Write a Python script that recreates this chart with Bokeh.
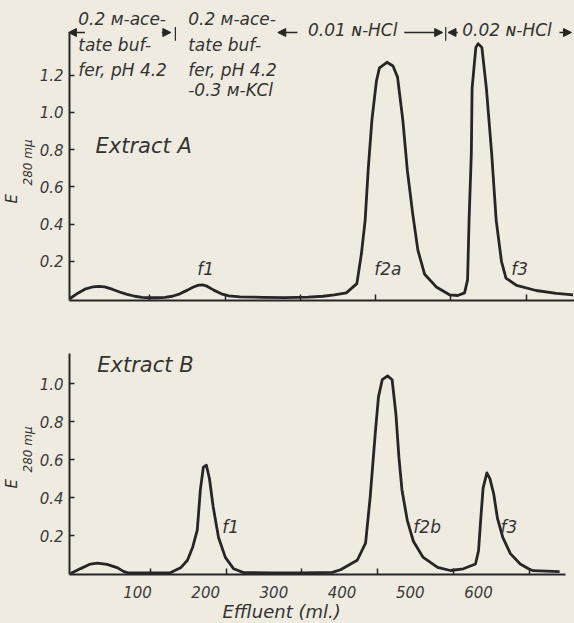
from bokeh.plotting import figure
from bokeh.layouts import column
from bokeh.models import (Range1d, LinearAxis, FixedTicker, Label, Arrow, NormalHead, Title,
                          PrintfTickFormatter, CustomLabelingPolicy)
from bokeh.embed import file_html
from bokeh.resources import INLINE

# ---------------- data ----------------
# Extract A (effluent ml, E280)
a_ml = [-6, 5, 15, 25, 32, 40, 50, 60, 70, 80, 90, 100, 110, 120, 130, 140, 150, 158, 165, 170,
        176, 185, 195, 205, 220, 250, 280, 310, 330, 345, 361, 375, 381, 386, 390, 395, 401, 405,
        415, 423, 429, 436, 442, 449, 456, 465, 481, 498, 509, 518, 522, 524, 527, 528, 533, 536,
        541, 547, 554, 560, 567, 573, 587, 613, 640, 662]
a_E = [0.0, 0.03, 0.052, 0.063, 0.065, 0.062, 0.05, 0.035, 0.022, 0.012, 0.006, 0.004, 0.004,
       0.006, 0.012, 0.025, 0.045, 0.062, 0.072, 0.073, 0.066, 0.045, 0.025, 0.014, 0.009, 0.006,
       0.005, 0.007, 0.012, 0.02, 0.03, 0.08, 0.24, 0.42, 0.69, 0.96, 1.17, 1.24, 1.27, 1.25, 1.19,
       0.96, 0.69, 0.46, 0.26, 0.13, 0.06, 0.02, 0.016, 0.03, 0.1, 0.42, 0.78, 1.13, 1.35, 1.37,
       1.35, 1.13, 0.78, 0.42, 0.2, 0.11, 0.07, 0.043, 0.027, 0.02]

# Extract B
b_ml = [-5, 8, 21, 30, 43, 57, 65, 70, 100, 127, 140, 149, 156, 162, 166, 170, 174, 178, 183,
        190, 199, 210, 223, 260, 300, 340, 351, 373, 384, 390, 397, 401, 406, 413, 419, 424, 428,
        432, 439, 447, 460, 479, 496, 513, 529, 533, 536, 539, 544, 548, 553, 558, 565, 575, 588,
        599, 605, 640]
b_E = [0.0, 0.026, 0.05, 0.055, 0.048, 0.03, 0.01, 0.005, 0.004, 0.005, 0.03, 0.07, 0.14, 0.23,
       0.44, 0.56, 0.57, 0.5, 0.35, 0.19, 0.085, 0.025, 0.005, 0.004, 0.004, 0.006, 0.02, 0.07,
       0.16, 0.4, 0.75, 0.93, 1.02, 1.04, 1.02, 0.84, 0.61, 0.44, 0.28, 0.17, 0.085, 0.032, 0.016,
       0.025, 0.05, 0.12, 0.29, 0.45, 0.53, 0.5, 0.42, 0.29, 0.19, 0.105, 0.05, 0.025, 0.015, 0.01]

x_ticks = [100, 200, 300, 400, 500, 600]
y_ticks_a = [0.2, 0.4, 0.6, 0.8, 1.0, 1.2]
y_ticks_b = [0.2, 0.4, 0.6, 0.8, 1.0]

# eluent changes (ml)
eluent_bounds = [0, 134, 270, 493, 662]
eluent_1 = ["0.2 ᴍ-ace-", "tate buf-", "fer, pH 4.2"]
eluent_2 = ["0.2 ᴍ-ace-", "tate buf-", "fer, pH 4.2", "-0.3 ᴍ-KCl"]
eluent_3 = "0.01 ɴ-HCl"
eluent_4 = "0.02 ɴ-HCl"

peaks_a = [("f1", 163), ("f2a", 398), ("f3", 580)]
peaks_b = [("f1", 195), ("f2b", 447), ("f3", 562)]

# ---------------- style ----------------
ink = "#262626"
txt = "#333333"
bg = "#efebe1"
FONT = "DejaVu Sans"

no_labels = CustomLabelingPolicy(code="""
    for (const i of Array.from(indices)) indices.unset(i)
    return indices
""")


def style(p, yticks):
    p.background_fill_color = bg
    p.border_fill_color = bg
    p.outline_line_color = None
    p.grid.visible = False
    for ax in p.xaxis:
        ax.ticker = FixedTicker(ticks=x_ticks)
        ax.axis_line_color = ink
        ax.axis_line_width = 2
        ax.major_tick_in = 6
        ax.major_tick_out = 0
        ax.major_tick_line_color = ink
        ax.major_tick_line_width = 1.5
        ax.minor_tick_line_color = None
        ax.major_label_policy = no_labels
        ax.major_label_text_font_size = "1px"
        ax.major_label_standoff = 0
    for ax in p.yaxis:
        ax.ticker = FixedTicker(ticks=yticks)
        ax.formatter = PrintfTickFormatter(format="%.1f")
        ax.axis_line_color = ink
        ax.axis_line_width = 2
        ax.major_tick_in = 5
        ax.major_tick_out = 0
        ax.major_tick_line_color = ink
        ax.major_tick_line_width = 1.5
        ax.minor_tick_line_color = None
        ax.major_label_text_font = FONT
        ax.major_label_text_font_style = "italic"
        ax.major_label_text_font_size = "15px"
        ax.major_label_text_color = "#3a3a3a"
        ax.major_label_standoff = 6


def lab(p, x, y, text, size="15px", **kw):
    p.add_layout(Label(x=x, y=y, text=text, text_font=FONT, text_font_style="italic",
                       text_font_size=size, text_color=txt, text_baseline="alphabetic", **kw))


def ylabel(p, off_e, off_sub):
    p.add_layout(Title(text="280 mμ", align="left", offset=off_sub, standoff=0, vertical_align="top",
                       text_font=FONT, text_font_style="italic", text_font_size="12px",
                       text_color=txt), "left")
    p.add_layout(Title(text="E", align="left", offset=off_e, standoff=0, vertical_align="bottom",
                       text_font=FONT, text_font_style="italic", text_font_size="15px",
                       text_color=txt), "left")


# ---------------- top panel ----------------
p1 = figure(width=574, height=310, x_range=Range1d(-6.6, 664), y_range=Range1d(-0.0108, 1.602),
            output_backend="svg", toolbar_location=None, title=None,
            min_border_left=69, min_border_right=0, min_border_top=0, min_border_bottom=10)
style(p1, y_ticks_a)
ya = 1.43
p1.yaxis.bounds = (-0.0108, ya)
p1.line(a_ml, a_E, line_width=2.8, color=ink, line_join="round")

lab(p1, 28, 0.82, "Extract A", size="21px")
for t, x in peaks_a:
    lab(p1, x, 0.16, t, size="17px")
ylabel(p1, 97, 115)

# header: eluents
head = dict(size=8, fill_color=ink, line_color=ink)
base_a = [1.50, 1.365, 1.231, 1.123]
for i, t in enumerate(eluent_1):
    lab(p1, eluent_bounds[0] + 5, base_a[i], t, size="17px")
for i, t in enumerate(eluent_2):
    lab(p1, eluent_bounds[1] + 17, base_a[i], t, size="17px")
lab(p1, eluent_bounds[2] + 40, 1.443, eluent_3, size="17px")
lab(p1, eluent_bounds[3] + 22, 1.443, eluent_4, size="17px")

arrows = [
    (eluent_bounds[0] + 14, eluent_bounds[0] - 8),
    (eluent_bounds[1] - 18, eluent_bounds[1] - 6),
    (eluent_bounds[2] + 26, eluent_bounds[2]),
    (eluent_bounds[3] - 55, eluent_bounds[3] - 4),
    (eluent_bounds[3] + 16, eluent_bounds[3] + 3),
    (eluent_bounds[4] - 18, eluent_bounds[4] - 2),
]
for xs, xe in arrows:
    p1.add_layout(Arrow(x_start=xs, y_start=ya, x_end=xe, y_end=ya, line_color=ink, line_width=1.5,
                        end=NormalHead(**head)))
for b in (eluent_bounds[1], eluent_bounds[3]):
    p1.add_layout(Arrow(x_start=b, y_start=ya - 0.045, x_end=b, y_end=ya + 0.03, line_color=ink,
                        line_width=1.2, end=None))

# ---------------- bottom panel ----------------
p2 = figure(width=574, height=313, x_range=Range1d(-6.6, 659.6), y_range=Range1d(-0.005, 1.158),
            output_backend="svg", toolbar_location=None, title=None,
            min_border_left=69, min_border_right=0, min_border_top=43, min_border_bottom=49)
p2.extra_x_ranges = {"lab": Range1d(0.3, 740.8)}
style(p2, y_ticks_b)
p2.xaxis.bounds = (-6.6, 647.8)
lab_axis = LinearAxis(x_range_name="lab", ticker=FixedTicker(ticks=x_ticks), axis_line_color=None,
                      major_tick_line_color=None, minor_tick_line_color=None,
                      major_label_text_font=FONT, major_label_text_font_style="italic",
                      major_label_text_font_size="15px", major_label_text_color="#3a3a3a",
                      major_label_standoff=1)
p2.add_layout(lab_axis, "below")
p2.add_layout(Title(text="Effluent (ml.)", align="left", offset=153, standoff=0, vertical_align="top",
                    text_font=FONT, text_font_style="italic", text_font_size="18px",
                    text_color=txt), "below")
p2.line(b_ml, b_E, line_width=2.8, color=ink, line_join="round")

lab(p2, 30, 1.10, "Extract B", size="21px")
for t, x in peaks_b:
    lab(p2, x, 0.245, t, size="17px")
ylabel(p2, 86, 102)

layout = column(p1, p2, spacing=0)
html = file_html(layout, INLINE)
html = html.replace("<head>", "<head><style>html,body{margin:0;padding:0;background:%s;}</style>" % bg, 1)
open("out.html", "w").write(html)
